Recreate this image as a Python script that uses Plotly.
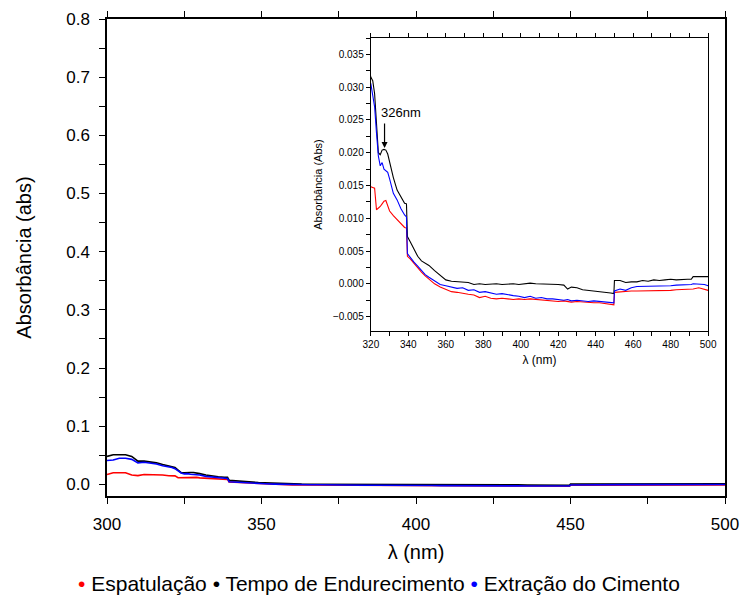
import plotly.graph_objects as go

# ---- data ----
wavelength = [300, 302, 304, 306, 308, 310, 312, 314, 316, 318,
              320, 321, 322, 323, 324, 325, 326, 327, 328, 329,
              330, 332, 334, 336, 338, 339, 339.5, 341, 343, 345,
              347, 349, 351, 354, 357, 360, 363, 366, 369, 372,
              375, 378, 381, 384, 387, 390, 393, 396, 399, 402,
              405, 408, 411, 414, 417, 420, 423, 425, 427, 430,
              433, 436, 439, 442, 445, 448, 449.7, 450, 453, 456,
              459, 462, 465, 468, 471, 474, 477, 480, 483, 486,
              489, 491, 492, 495, 498, 500]

tempo_endurecimento = [0.048, 0.051, 0.051, 0.051, 0.048, 0.040, 0.040, 0.039, 0.037, 0.034,
                       0.0315, 0.0310, 0.0290, 0.0245, 0.0200, 0.0197, 0.0204, 0.0205, 0.0204, 0.0198,
                       0.0185, 0.0162, 0.0143, 0.0132, 0.0123, 0.0122, 0.0072, 0.0064, 0.0052, 0.0042,
                       0.0035, 0.0031, 0.0028, 0.0020, 0.0013, 0.0006, 0.0004, 0.0003, 0.0003, 0.0002,
                       -0.0001, 0.0000, -0.0001, 0.0000, 0.0000, -0.0001, 0.0000, 0.0000, -0.0001, 0.0000,
                       0.0001, 0.0000, 0.0000, 0.0000, 0.0000, -0.0001, -0.0002, -0.0008, -0.0005, -0.0006,
                       -0.0009, -0.0010, -0.0011, -0.0011, -0.0013, -0.0014, -0.0015, 0.0005, 0.0005, 0.0002,
                       0.0003, 0.0003, 0.0005, 0.0004, 0.0006, 0.0005, 0.0006, 0.0007, 0.0006, 0.0007,
                       0.0007, 0.0007, 0.0011, 0.0011, 0.0011, 0.0011]

extracao_cimento = [0.041, 0.042, 0.045, 0.045, 0.043, 0.037, 0.038, 0.037, 0.035, 0.032,
                    0.0305, 0.0290, 0.0270, 0.0230, 0.0195, 0.0180, 0.0185, 0.0175, 0.0172, 0.0170,
                    0.0160, 0.0138, 0.0128, 0.0115, 0.0105, 0.0102, 0.0046, 0.0040, 0.0033, 0.0027,
                    0.0020, 0.0014, 0.0010, 0.0004, -0.0001, -0.0003, -0.0005, -0.0007, -0.0006, -0.0010,
                    -0.0009, -0.0013, -0.0012, -0.0014, -0.0016, -0.0015, -0.0017, -0.0018, -0.0019, -0.0021,
                    -0.0019, -0.0022, -0.0021, -0.0023, -0.0023, -0.0024, -0.0025, -0.0024, -0.0026, -0.0025,
                    -0.0026, -0.0027, -0.0026, -0.0027, -0.0028, -0.0028, -0.0029, -0.0011, -0.0008, -0.0010,
                    -0.0006, -0.0004, -0.0004, -0.0004, -0.0004, -0.0003, -0.0003, -0.0003, -0.0002, -0.0002,
                    -0.0002, -0.0001, 0.0000, 0.0000, -0.0001, -0.0003]

espatulacao = [0.017, 0.020, 0.020, 0.020, 0.016, 0.015, 0.017, 0.017, 0.017, 0.016,
               0.0148, 0.0147, 0.0146, 0.0113, 0.0115, 0.0118, 0.0122, 0.0126, 0.0127, 0.0120,
               0.0111, 0.0104, 0.0098, 0.0091, 0.0086, 0.0085, 0.0042, 0.0038, 0.0031, 0.0024,
               0.0018, 0.0012, 0.0007, 0.0000, -0.0005, -0.0009, -0.0012, -0.0013, -0.0015, -0.0016,
               -0.0017, -0.0021, -0.0019, -0.0022, -0.0023, -0.0022, -0.0023, -0.0024, -0.0023, -0.0024,
               -0.0023, -0.0024, -0.0025, -0.0025, -0.0026, -0.0027, -0.0026, -0.0027, -0.0028, -0.0027,
               -0.0028, -0.0028, -0.0029, -0.0029, -0.0030, -0.0031, -0.0032, -0.0013, -0.0012, -0.0012,
               -0.0011, -0.0011, -0.0011, -0.0010, -0.0010, -0.0010, -0.0010, -0.0010, -0.0009, -0.0009,
               -0.0009, -0.0008, -0.0008, -0.0006, -0.0009, -0.0010]

series_names = ["Espatulação", "Tempo de Endurecimento", "Extração do Cimento"]
series_values = [espatulacao, tempo_endurecimento, extracao_cimento]
series_colors = ["#ff0000", "#000000", "#0000ff"]

peak_label = "326nm"
peak_x = 327.3
peak_y = 0.0207

FONT = "Liberation Sans, Arial, sans-serif"

ML, MR, MT, MB = 107, 16, 19, 102
W, H = 746, 598
plot_w = W - ML - MR
plot_h = H - MT - MB

fig = go.Figure()

# main plot traces
for name, vals, col in zip(series_names, series_values, series_colors):
    fig.add_trace(go.Scatter(x=wavelength, y=vals, mode="lines", name=name,
                             line=dict(color=col, width=1.6), showlegend=False,
                             xaxis="x", yaxis="y"))

# inset traces
for name, vals, col in zip(series_names, series_values, series_colors):
    fig.add_trace(go.Scatter(x=wavelength, y=vals, mode="lines", name=name,
                             line=dict(color=col, width=1.1), showlegend=False,
                             xaxis="x2", yaxis="y2"))

# legend as a line of text with coloured bullets
legend_text = " ".join(
    f"<span style='color:{col}'>•</span> {name}" for name, col in zip(series_names, series_colors)
)

axis_common = dict(showline=True, linecolor="black", linewidth=1.5, ticks="outside",
                   tickcolor="black", showgrid=False, zeroline=False, automargin=False)

def px_x(px):
    return (px - ML) / plot_w

def px_y(py):
    return (H - MB - py) / plot_h

fig.update_layout(
    width=W, height=H,
    margin=dict(l=ML, r=MR, t=MT, b=MB),
    paper_bgcolor="white", plot_bgcolor="white",
    font=dict(family=FONT, color="black"),
    showlegend=False,
    xaxis=dict(domain=[0, 1], range=[300, 500], dtick=50, tick0=300, ticklen=6, tickwidth=1.2,
               mirror="allticks", ticklabelstandoff=6,
               minor=dict(dtick=25, ticks="outside", ticklen=6, tickcolor="black", tickwidth=1.2),
               tickfont=dict(size=17),
               title=dict(text="λ (nm)", font=dict(size=20), standoff=12),
               **axis_common),
    yaxis=dict(domain=[0, 1], range=[-0.02, 0.8], dtick=0.1, tick0=0, ticklen=6, tickwidth=1.2,
               tickformat=".1f", mirror=True, ticklabelstandoff=6,
               minor=dict(dtick=0.05, ticks="outside", ticklen=6, tickcolor="black", tickwidth=1.2),
               tickfont=dict(size=17),
               title=dict(text="Absorbância (abs)", font=dict(size=20), standoff=29),
               **axis_common),
    xaxis2=dict(domain=[px_x(373), px_x(713)], anchor="y2", range=[320, 500], dtick=20, tick0=320,
                ticklen=4, tickwidth=1, mirror="allticks",
                minor=dict(dtick=10, ticks="outside", ticklen=4, tickcolor="black", tickwidth=1),
                tickfont=dict(size=10),
                title=dict(text="λ (nm)", font=dict(size=12), standoff=6),
                showline=True, linecolor="black", linewidth=1.2, ticks="outside",
                tickcolor="black", showgrid=False, zeroline=False),
    yaxis2=dict(domain=[px_y(331), px_y(38)], anchor="x2", range=[-0.0072, 0.0375], dtick=0.005,
                tick0=0, tickformat=".3f", ticklen=4, tickwidth=1, mirror=True,
                minor=dict(dtick=0.0025, ticks="outside", ticklen=4, tickcolor="black", tickwidth=1),
                tickfont=dict(size=10),
                title=dict(text="Absorbância (Abs)", font=dict(size=11), standoff=8),
                showline=True, linecolor="black", linewidth=1.2, ticks="outside",
                tickcolor="black", showgrid=False, zeroline=False),
    annotations=[
        dict(x=peak_x, y=peak_y, xref="x2", yref="y2", text="", showarrow=True,
             arrowhead=2, arrowsize=1, arrowwidth=1.2, arrowcolor="black", ax=0, ay=-26),
        dict(x=peak_x, y=peak_y, xref="x2", yref="y2", text=peak_label, showarrow=False,
             xanchor="left", yanchor="bottom", xshift=-6, yshift=26,
             font=dict(size=13, family=FONT)),
        dict(x=px_x(381), y=px_y(583), xref="paper", yref="paper", text=legend_text,
             showarrow=False, xanchor="center", yanchor="middle",
             font=dict(size=21, family=FONT)),
    ],
)

fig.write_html("out.html")
